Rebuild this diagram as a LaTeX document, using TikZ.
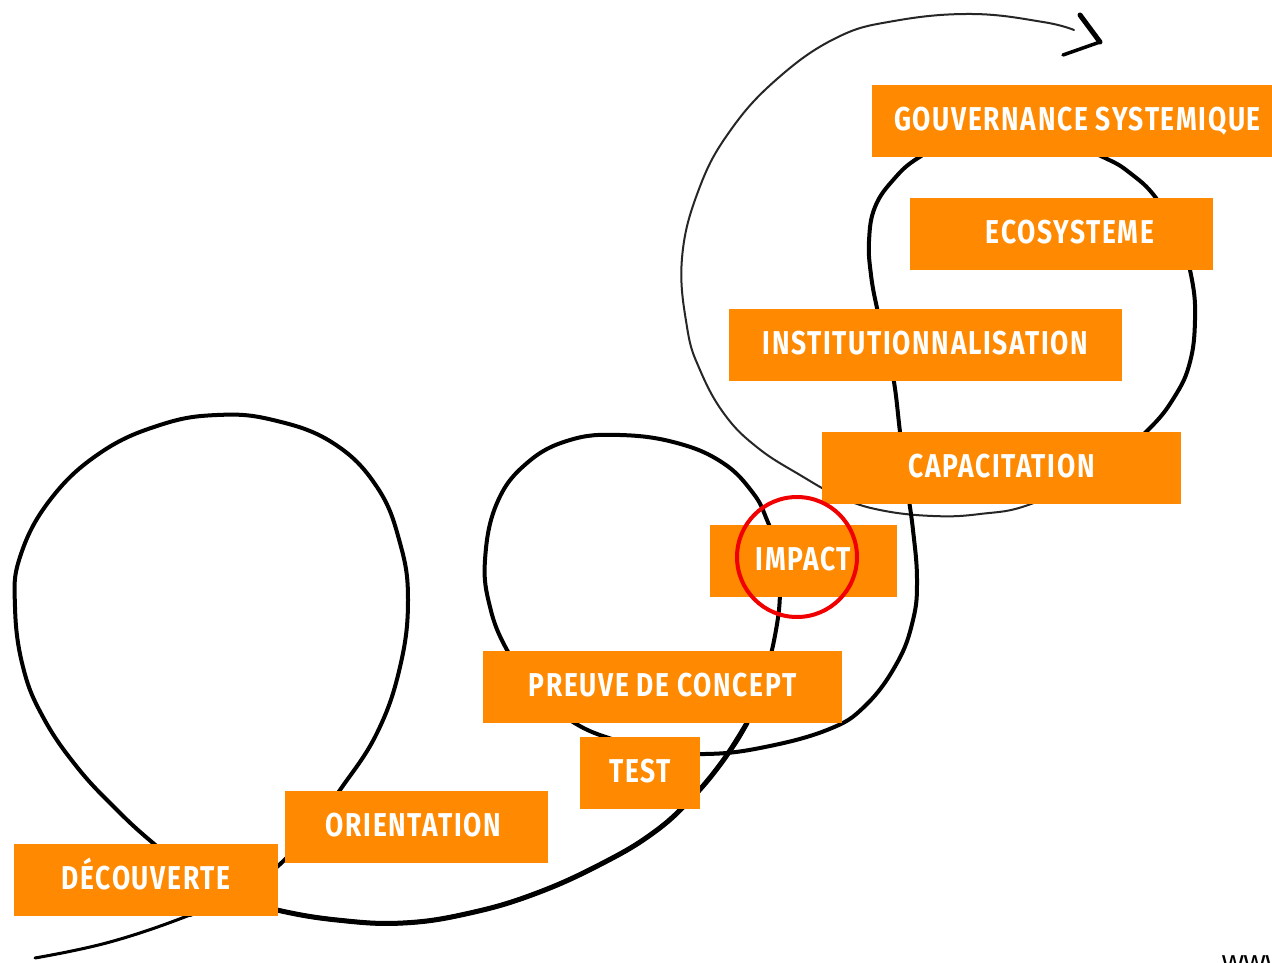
\documentclass[tikz,border=0pt]{standalone}
\usepackage{fontspec}
\setmainfont{Liberation Sans}
\newfontfamily\labelfont{Fira Sans}[FakeStretch=0.8, LetterSpace=5]
\definecolor{boxorange}{RGB}{255,137,0}
\definecolor{ringred}{RGB}{240,0,0}
\tikzset{
  stage/.style={fill=boxorange, inner sep=0pt, text=white,
    font=\labelfont\bfseries\fontsize{33}{33}\selectfont,
    text height=23pt, text depth=4pt, minimum height=72pt},
  pathline/.style={line cap=round, line join=round, black},
}
\begin{document}
\begin{tikzpicture}[x=1pt,y=-1pt]
\useasboundingbox (0,0) rectangle (1272,963);
\fill[white] (0,0) rectangle (1272,963);

% the journey curve
\def\journey{(35,958) (110,942) (190,915) (240,892) (278,866) (312,828) (340,790) (377,733) (400,667) (408,600) (400,543) (377,487) (333,443) (273,420) (217,415) (160,425) (100,453) (50,500) (20,557) (15,607) (23,667) (43,717) (77,767) (117,810) (153,843) (195,876) (240,898) (277,910) (337,920) (403,923) (470,913) (537,893) (603,863) (653,833) (690,800) (722,762) (747,723) (765,675) (776,630) (780,590) (777,550) (767,520) (753,493) (723,463) (677,443) (620,435) (570,440) (527,463) (497,503) (485,560) (490,607) (507,650) (535,690) (573,722) (615,740) (660,750) (705,754) (760,748) (827,730) (865,706) (897,663) (913,620) (917,580) (913,530) (906,480) (900,432) (894,382) (885,340) (877,308) (871,275) (869,241) (875,207) (894,179) (918,158) (955,140) (1010,133) (1060,140) (1105,158) (1130,173) (1156,198) (1180,240) (1192,280) (1195,320) (1190,362) (1175,396) (1148,430) (1100,470) (1031,504) (980,514) (933,516) (880,510) (840,497) (800,475) (758,448) (725,415) (700,370) (687,327) (682,258) (699,189) (730,131) (777,79) (836,38) (894,21) (972,14) (1043,22) (1074,30)}
\draw[pathline, line width=2pt, black!85] plot[smooth, tension=0.7] coordinates {\journey};
\draw[pathline, line width=3pt] plot[smooth, tension=0.7] coordinates {(35,958) (110,942) (190,915) (240,892) (278,866)};
\draw[pathline, line width=4pt] plot[smooth, tension=0.7] coordinates {(190,915) (240,892) (278,866) (312,828) (340,790) (377,733) (400,667) (408,600) (400,543) (377,487) (333,443) (273,420) (217,415) (160,425) (100,453) (50,500) (20,557) (15,607) (23,667) (43,717) (77,767) (117,810) (153,843) (195,876) (240,898) (277,910) (337,920) (403,923) (470,913) (537,893) (603,863) (653,833) (690,800) (722,762) (747,723) (765,675) (776,630) (780,590) (777,550) (767,520) (753,493) (723,463) (677,443) (620,435) (570,440) (527,463) (497,503) (485,560) (490,607) (507,650) (535,690) (573,722) (615,740) (660,750) (705,754) (760,748) (827,730) (865,706) (897,663) (913,620) (917,580) (913,530) (906,480) (900,432) (894,382) (885,340) (877,308) (871,275) (869,241) (875,207) (894,179) (918,158) (955,140) (1010,133) (1060,140) (1105,158) (1130,173) (1156,198) (1180,240) (1192,280) (1195,320) (1190,362) (1175,396) (1148,430) (1100,470)};
\draw[pathline, line width=5pt] plot[smooth, tension=0.7] coordinates {(195,876) (240,898) (277,910) (337,920) (403,923) (470,913) (537,893) (603,863) (653,833) (690,800) (722,762) (747,723)};

% arrow head
\coordinate (tipA) at (1080,15);
\coordinate (tip) at (1100,42);
\coordinate (tipB) at (1063,55);
\draw[pathline, line width=5pt] (tipA) -- (tip);
\draw[pathline, line width=3.5pt] (tip) -- (tipB);

% stage boxes
\node[stage, minimum width=264pt] (decouverte) at (146,880) {DÉCOUVERTE};
\node[stage, minimum width=263pt] (orientation) at (416.5,826.5) {\hspace*{-6pt}ORIENTATION};
\node[stage, minimum width=120pt] (test) at (640,772.5) {TEST};
\node[stage, minimum width=359pt] (preuve) at (662.5,687) {PREUVE DE CONCEPT};
\node[stage, minimum width=187pt] (impact) at (803.5,560.5) {IMPACT};
\node[stage, minimum width=359pt] (capacitation) at (1001.5,468) {CAPACITATION};
\node[stage, minimum width=393pt] (institution) at (925.5,345) {INSTITUTIONNALISATION};
\node[stage, minimum width=303pt] (ecosysteme) at (1061.5,234) {\hspace*{17pt}ECOSYSTEME};
\node[stage, minimum width=400pt] (gouvernance) at (1072,121) {\hspace*{11pt}GOUVERNANCE SYSTEMIQUE};

% highlight ring
\node[draw=ringred, line width=4pt, circle, minimum size=120pt, inner sep=0pt] (ring) at (797,557) {};

% cut-off web address
\node[anchor=base west, font=\fontsize{30}{30}\selectfont, inner sep=0pt] (www) at (1222,971) {www};
\end{tikzpicture}
\end{document}
